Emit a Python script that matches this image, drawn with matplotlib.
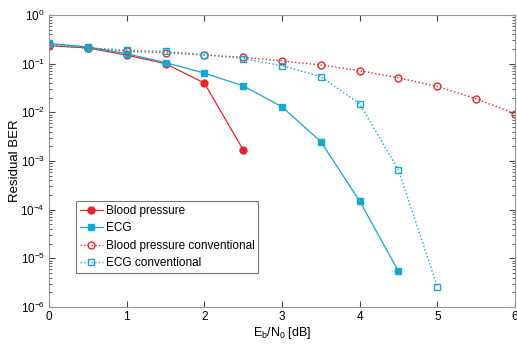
import matplotlib
matplotlib.use('Agg')
import matplotlib.pyplot as plt

plt.rcParams['font.family'] = ['Liberation Sans', 'DejaVu Sans']
plt.rcParams['font.size'] = 8.5

ebn0 = [0, 0.5, 1, 1.5, 2, 2.5, 3, 3.5, 4, 4.5, 5, 5.5, 6]
bp = [0.235, 0.21, 0.15, 0.10, 0.04, 0.0017]
ecg = [0.26, 0.22, 0.16, 0.105, 0.064, 0.035, 0.013, 0.0025, 1.5e-4, 5.4e-6]
bp_conv = [0.24, 0.21, 0.18, 0.168, 0.15, 0.135, 0.114, 0.094, 0.072, 0.051, 0.034, 0.019, 0.0094]
ecg_conv = [0.25, 0.21, 0.19, 0.178, 0.154, 0.127, 0.091, 0.054, 0.015, 6.5e-4, 2.6e-6]

red = '#e8262a'
cyan = '#12a9d2'

fig = plt.figure(figsize=(5.17, 3.45), dpi=100)
ax = fig.add_axes([49 / 517, 1 - 307 / 345, 466 / 517, 292 / 345])

ax.semilogy(ebn0[:len(bp)], bp, '-o', color=red, lw=0.9, ms=5, label='Blood pressure')
ax.semilogy(ebn0[:len(ecg)], ecg, '-s', color=cyan, lw=0.9, ms=5, label='ECG')
ax.semilogy(ebn0[:len(bp_conv)], bp_conv, ':o', color=red, lw=1.0, ms=5, mfc='none', label='Blood pressure conventional')
ax.semilogy(ebn0[:len(ecg_conv)], ecg_conv, ':s', color=cyan, lw=1.0, ms=5, mfc='none', label='ECG conventional')

ax.set_xlim(0, 6)
ax.set_ylim(1e-6, 1)
ax.set_xlabel(r'$\mathregular{E_b/N_0}$ [dB]', fontsize=9, labelpad=1)
ax.set_ylabel('Residual BER', fontsize=9.5)
ax.yaxis.set_label_coords(-28 / 466, 0.5)

ax.tick_params(which='both', direction='in', top=True, right=True, color='#444444', pad=3)
ax.tick_params(which='major', length=4)
ax.tick_params(which='minor', length=2)
for s in ax.spines.values():
    s.set_color('#999999')

leg = ax.legend(loc='upper left', bbox_to_anchor=(27 / 466, 106 / 292), fancybox=False,
                edgecolor='#777777', framealpha=1, handlelength=1.9, handletextpad=0.25,
                borderpad=0.35, labelspacing=0.45, borderaxespad=0, fontsize=8.5)
leg.get_frame().set_linewidth(0.8)

fig.savefig('out.png', dpi=100)
